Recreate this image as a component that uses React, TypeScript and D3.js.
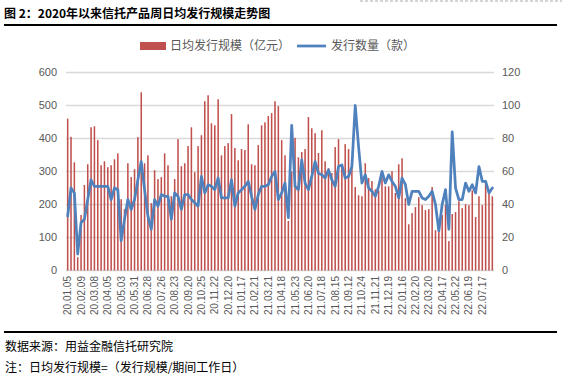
import { useEffect, useRef } from "react";
import * as d3 from "d3";

// weekly categories (holiday weeks skipped), only every 4th is labelled
const weeks: string[] = [
  "20.01.05","20.01.12","20.01.19","20.02.02","20.02.09","20.02.16","20.02.23","20.03.01",
  "20.03.08","20.03.15","20.03.22","20.03.29","20.04.05","20.04.12","20.04.19","20.04.26",
  "20.05.03","20.05.10","20.05.17","20.05.24","20.05.31","20.06.07","20.06.14","20.06.21",
  "20.06.28","20.07.05","20.07.12","20.07.19","20.07.26","20.08.02","20.08.09","20.08.16",
  "20.08.23","20.08.30","20.09.06","20.09.13","20.09.20","20.09.27","20.10.11","20.10.18",
  "20.10.25","20.11.01","20.11.08","20.11.15","20.11.22","20.11.29","20.12.06","20.12.13",
  "20.12.20","20.12.27","21.01.03","21.01.10","21.01.17","21.01.24","21.01.31","21.02.07",
  "21.02.21","21.02.28","21.03.07","21.03.14","21.03.21","21.03.28","21.04.04","21.04.11",
  "21.04.18","21.04.25","21.05.09","21.05.16","21.05.23","21.05.30","21.06.06","21.06.13",
  "21.06.20","21.06.27","21.07.04","21.07.11","21.07.18","21.07.25","21.08.01","21.08.08",
  "21.08.15","21.08.22","21.08.29","21.09.05","21.09.12","21.09.19","21.09.26","21.10.17",
  "21.10.24","21.10.31","21.11.07","21.11.14","21.11.21","21.11.28","21.12.05","21.12.12",
  "21.12.19","21.12.26","22.01.02","22.01.09","22.01.16","22.01.23","22.02.06","22.02.13",
  "22.02.20","22.02.27","22.03.06","22.03.13","22.03.20","22.03.27","22.04.03","22.04.10",
  "22.04.17","22.04.24","22.05.08","22.05.15","22.05.22","22.05.29","22.06.05","22.06.12",
  "22.06.19","22.06.26","22.07.03","22.07.10","22.07.17","22.07.24","22.07.31","22.08.07",
];

// 日均发行规模（亿元）
const dailyScale: number[] = [
  460,405,328,40,168,259,322,434,437,395,319,331,313,319,337,355,
  216,186,325,283,307,404,540,325,349,204,304,277,283,355,319,225,
  277,398,316,325,377,434,298,377,410,513,531,446,440,519,349,377,
  386,474,371,334,368,365,443,322,319,380,440,449,468,477,513,498,
  395,349,150,300,402,343,359,368,465,431,416,356,425,331,310,295,
  374,398,319,383,368,316,253,228,225,325,280,271,246,243,298,255,
  255,301,235,322,340,219,140,174,192,222,198,183,186,253,122,150,
  168,200,89,171,177,210,189,201,198,243,162,225,198,271,234,225,
];

// 发行数量（款）
const issueCount: number[] = [
  33,50,47,10,29,31,43,55,51,51,51,51,51,43,50,49,
  18,31,43,37,43,55,66,49,33,25,43,39,46,45,45,31,
  47,45,37,46,46,43,41,39,57,47,52,51,49,56,44,44,
  44,55,39,47,49,51,54,45,37,46,51,51,52,57,60,43,
  47,53,32,88,51,49,67,53,49,57,66,59,58,56,61,55,
  51,63,64,56,57,63,100,75,53,58,50,48,45,51,60,53,
  58,54,51,44,56,52,40,48,48,48,44,43,45,48,40,24,
  40,49,25,84,50,43,43,53,48,52,47,63,54,54,47,50,
];

const leftTicks = [0, 100, 200, 300, 400, 500, 600];
const rightTicks = [0, 20, 40, 60, 80, 100, 120];

const W = 562, H = 384;
const CJK = "'Noto Sans CJK SC', sans-serif";
const NUM = "'Liberation Sans', 'Noto Sans CJK SC', sans-serif";

export default function App() {
  const svgRef = useRef<SVGSVGElement>(null);

  useEffect(() => {
    if (!svgRef.current) return;
    const svg = d3.select(svgRef.current);
    svg.selectAll("*").remove();

    const left = 66, right = 494, top = 72.5, bottom = 270.5;

    // header
    svg.append("line")
      .attr("x1", 360).attr("x2", W).attr("y1", 1).attr("y2", 1)
      .attr("stroke", "#aaa").attr("stroke-dasharray", "3,2");
    svg.append("text")
      .attr("x", 4).attr("y", 18)
      .attr("font-family", CJK).attr("font-size", 12).attr("font-weight", "bold")
      .attr("fill", "#000")
      .text("图 2：2020年以来信托产品周日均发行规模走势图");
    svg.append("line")
      .attr("x1", 4).attr("x2", 557).attr("y1", 25).attr("y2", 25)
      .attr("stroke", "#000").attr("stroke-width", 2);

    const x = d3.scaleBand().domain(weeks).range([left, right]).padding(0);
    const yL = d3.scaleLinear().domain([0, 600]).range([bottom, top]);
    const yR = d3.scaleLinear().domain([0, 120]).range([bottom, top]);

    // grid
    svg.append("g").selectAll("line")
      .data(leftTicks).enter().append("line")
      .attr("x1", left).attr("x2", right)
      .attr("y1", d => yL(d)).attr("y2", d => yL(d))
      .attr("stroke", "#d9d9d9").attr("stroke-width", 1.5);

    // tick labels
    svg.append("g").selectAll("text")
      .data(leftTicks).enter().append("text")
      .attr("x", 57).attr("y", d => yL(d)).attr("dy", "0.35em")
      .attr("text-anchor", "end")
      .attr("font-family", NUM).attr("font-size", 11).attr("fill", "#595959")
      .text(d => d);
    svg.append("g").selectAll("text")
      .data(rightTicks).enter().append("text")
      .attr("x", 502).attr("y", d => yR(d)).attr("dy", "0.35em")
      .attr("text-anchor", "start")
      .attr("font-family", NUM).attr("font-size", 11).attr("fill", "#595959")
      .text(d => d);

    svg.append("g").selectAll("text")
      .data(weeks.filter((_, i) => i % 4 === 0)).enter().append("text")
      .attr("transform", d => `translate(${x(d)! + x.bandwidth() / 2},276) rotate(-90)`)
      .attr("dy", "0.35em")
      .attr("text-anchor", "end")
      .attr("font-family", NUM).attr("font-size", 10).attr("fill", "#595959")
      .text(d => d);

    // bars
    const bw = x.bandwidth() * 0.46;
    svg.append("g").selectAll("rect")
      .data(dailyScale).enter().append("rect")
      .attr("x", (_, i) => x(weeks[i])! + (x.bandwidth() - bw) / 2)
      .attr("y", d => yL(d))
      .attr("width", bw)
      .attr("height", d => yL(0) - yL(d))
      .attr("fill", "#c0504d");

    // line
    const line = d3.line<number>()
      .x((_, i) => x(weeks[i])! + x.bandwidth() / 2)
      .y(d => yR(d));
    svg.append("path")
      .datum(issueCount)
      .attr("d", line)
      .attr("fill", "none")
      .attr("stroke", "#4f81bd")
      .attr("stroke-width", 2.75)
      .attr("stroke-linejoin", "round")
      .attr("stroke-linecap", "round");

    // legend
    const lg = svg.append("g").attr("font-family", CJK).attr("font-size", 12).attr("fill", "#595959");
    lg.append("rect").attr("x", 140).attr("y", 42).attr("width", 26).attr("height", 8).attr("fill", "#c0504d");
    lg.append("text").attr("x", 170).attr("y", 46).attr("dy", "0.35em").text("日均发行规模（亿元）");
    lg.append("line").attr("x1", 297).attr("x2", 326).attr("y1", 46).attr("y2", 46)
      .attr("stroke", "#4f81bd").attr("stroke-width", 2.75);
    lg.append("text").attr("x", 331).attr("y", 46).attr("dy", "0.35em").text("发行数量（款）");

    // footer
    svg.append("line")
      .attr("x1", 4).attr("x2", 557).attr("y1", 332).attr("y2", 332)
      .attr("stroke", "#000").attr("stroke-width", 2);
    svg.append("text")
      .attr("x", 5).attr("y", 351)
      .attr("font-family", CJK).attr("font-size", 12).attr("fill", "#000")
      .text("数据来源：用益金融信托研究院");
    svg.append("text")
      .attr("x", 5).attr("y", 372)
      .attr("font-family", CJK).attr("font-size", 12).attr("fill", "#000")
      .text("注：日均发行规模=（发行规模/期间工作日）");
  }, []);

  return (
    <svg ref={svgRef} width={W} height={H}
      style={{ position: "absolute", left: 0, top: 0, background: "#fff" }} />
  );
}
